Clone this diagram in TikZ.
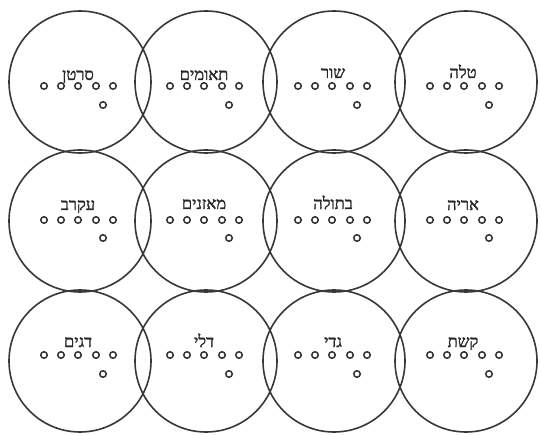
\documentclass[tikz,border=0pt]{standalone}
\usepackage{fontspec}
\newfontfamily\hebfont[Script=Hebrew,FakeBold=1.5]{Liberation Serif}
\TeXXeTstate=1
\begin{document}
\begin{tikzpicture}[x=1pt,y=-1pt,
  ring/.style={circle,draw=black!78,line width=1.6pt,minimum size=142pt,inner sep=0pt},
  dotring/.style={circle,draw=black!80,line width=1.5pt,minimum size=6.5pt,inner sep=0pt,fill=white},
  lbl/.style={font=\hebfont\fontsize{16.5}{16.5}\selectfont,text=black!85,inner sep=0pt,anchor=base}]
\useasboundingbox (0,0) rectangle (540,435);
\fill[white] (0,0) rectangle (540,435);
% circles
\foreach \cx [count=\i] in {80,206,334,466}{
  \foreach \cy [count=\j] in {82,221,361}{
    \node[ring] (c\j\i) at (\cx,\cy) {};
  }
}
% dots
\foreach \cx [count=\i] in {80,206,334,466}{
  \foreach \dy/\ly [count=\j] in {86/105,220/238,355/374}{
    \foreach \dx [count=\k] in {-36,-19,-2,16,33}{
      \node[dotring] (d\j\i\k) at (\cx+\dx,\dy) {};
    }
    \node[dotring] (d\j\i6) at (\cx+23,\ly) {};
  }
}
% labels
\node[lbl] (t11) at (78,80) {\beginR סרטן\endR};
\node[lbl] (t12) at (204,80) {\beginR תאומים\endR};
\node[lbl] (t13) at (333,78) {\beginR שור\endR};
\node[lbl] (t14) at (463,78) {\beginR טלה\endR};
\node[lbl] (t21) at (78,210) {\beginR עקרב\endR};
\node[lbl] (t22) at (204,209) {\beginR מאזנים\endR};
\node[lbl] (t23) at (333,209) {\beginR בתולה\endR};
\node[lbl] (t24) at (463,210) {\beginR אריה\endR};
\node[lbl] (t31) at (78,347) {\beginR דגים\endR};
\node[lbl] (t32) at (204,347) {\beginR דלי\endR};
\node[lbl] (t33) at (333,347) {\beginR גדי\endR};
\node[lbl] (t34) at (463,347) {\beginR קשת\endR};
\end{tikzpicture}
\end{document}
